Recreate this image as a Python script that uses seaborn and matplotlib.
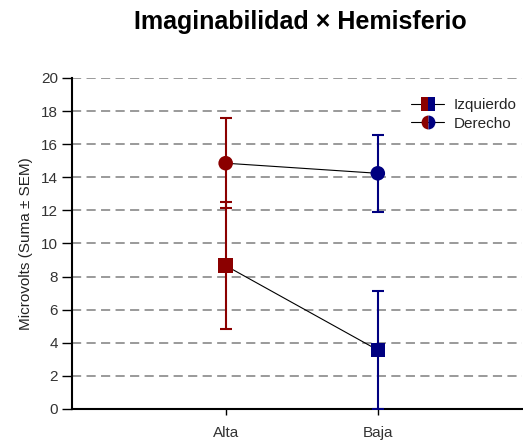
import matplotlib
matplotlib.use("Agg")
import matplotlib.pyplot as plt
from matplotlib.lines import Line2D
import seaborn as sns
import pandas as pd

categories = ["Alta", "Baja"]
series = ["Izquierdo", "Derecho"]
izquierdo = [8.66, 3.56]
izquierdo_sem = [3.84, 3.57]
derecho = [14.85, 14.24]
derecho_sem = [2.73, 2.34]
y_ticks = [0, 2, 4, 6, 8, 10, 12, 14, 16, 18, 20]

cat_colors = {"Alta": "#8B0000", "Baja": "#000080"}
series_markers = {"Izquierdo": "s", "Derecho": "o"}

rows = []
for c, v, e in zip(categories, izquierdo, izquierdo_sem):
    rows.append({"cat": c, "serie": "Izquierdo", "val": v, "sem": e})
for c, v, e in zip(categories, derecho, derecho_sem):
    rows.append({"cat": c, "serie": "Derecho", "val": v, "sem": e})
df = pd.DataFrame(rows)

sns.set_theme(style="white")
plt.rcParams["font.family"] = ["Liberation Sans", "DejaVu Sans"]

fig = plt.figure(figsize=(5.23, 4.41), dpi=100)
ax = fig.add_axes([0.1377, 0.0726, 0.861, 0.7506])

# connecting lines
sns.lineplot(data=df, x="cat", y="val", units="serie", estimator=None,
             color="black", linewidth=0.8, ax=ax, legend=False, zorder=2)

# error bars
for _, r in df.iterrows():
    ax.errorbar([r["cat"]], [r["val"]], yerr=[r["sem"]], fmt="none",
                ecolor=cat_colors[r["cat"]], elinewidth=1.5, capsize=4.5,
                capthick=1.5, zorder=3)

sns.scatterplot(data=df, x="cat", y="val", hue="cat", style="serie",
                palette=cat_colors, markers=series_markers, s=110,
                edgecolor="none", ax=ax, legend=False, zorder=4)

ax.set_ylim(0, 20)
ax.set_xlim(-1.01, 1.95)
ax.set_yticks(y_ticks)
ax.set_yticklabels([str(t) for t in y_ticks])
for t in y_ticks[1:]:
    ax.axhline(t, color="#7f7f7f", linewidth=1.1, dashes=(6, 3.5), zorder=1)

for s in ["top", "right"]:
    ax.spines[s].set_visible(False)
for s in ["left", "bottom"]:
    ax.spines[s].set_color("black")
    ax.spines[s].set_linewidth(1.5)

ax.tick_params(axis="y", direction="out", length=7, width=1.0, color="black",
               labelsize=11, labelcolor="#333333", pad=3, left=True)
ax.tick_params(axis="x", direction="out", length=4, width=1.0, color="black",
               labelsize=11, labelcolor="#333333", pad=8, bottom=True)
ax.set_xlabel("")
ax.set_ylabel("Microvolts (Suma ± SEM)", fontsize=11, color="#222222", labelpad=6)

fig.suptitle("Imaginabilidad × Hemisferio", x=0.574, y=0.978,
             fontsize=18, fontweight="bold", color="black")

handles = [
    Line2D([0], [0], color="black", linewidth=0.8, marker="s", markersize=10,
           fillstyle="left", markerfacecolor="#8B0000",
           markerfacecoloralt="#000080", markeredgewidth=0),
    Line2D([0], [0], color="black", linewidth=0.8, marker="o", markersize=10,
           fillstyle="left", markerfacecolor="#8B0000",
           markerfacecoloralt="#000080", markeredgewidth=0),
]
leg = ax.legend(handles, series, loc="upper right", bbox_to_anchor=(1.009, 0.969),
                frameon=True, fontsize=11, handlelength=2.2, handletextpad=0.6,
                labelspacing=0.3, borderaxespad=0.0, borderpad=0.65,
                fancybox=False, framealpha=1.0)
leg.get_frame().set_facecolor("white")
leg.get_frame().set_edgecolor("none")
leg.set_zorder(5)

fig.savefig("out.png", dpi=100)
